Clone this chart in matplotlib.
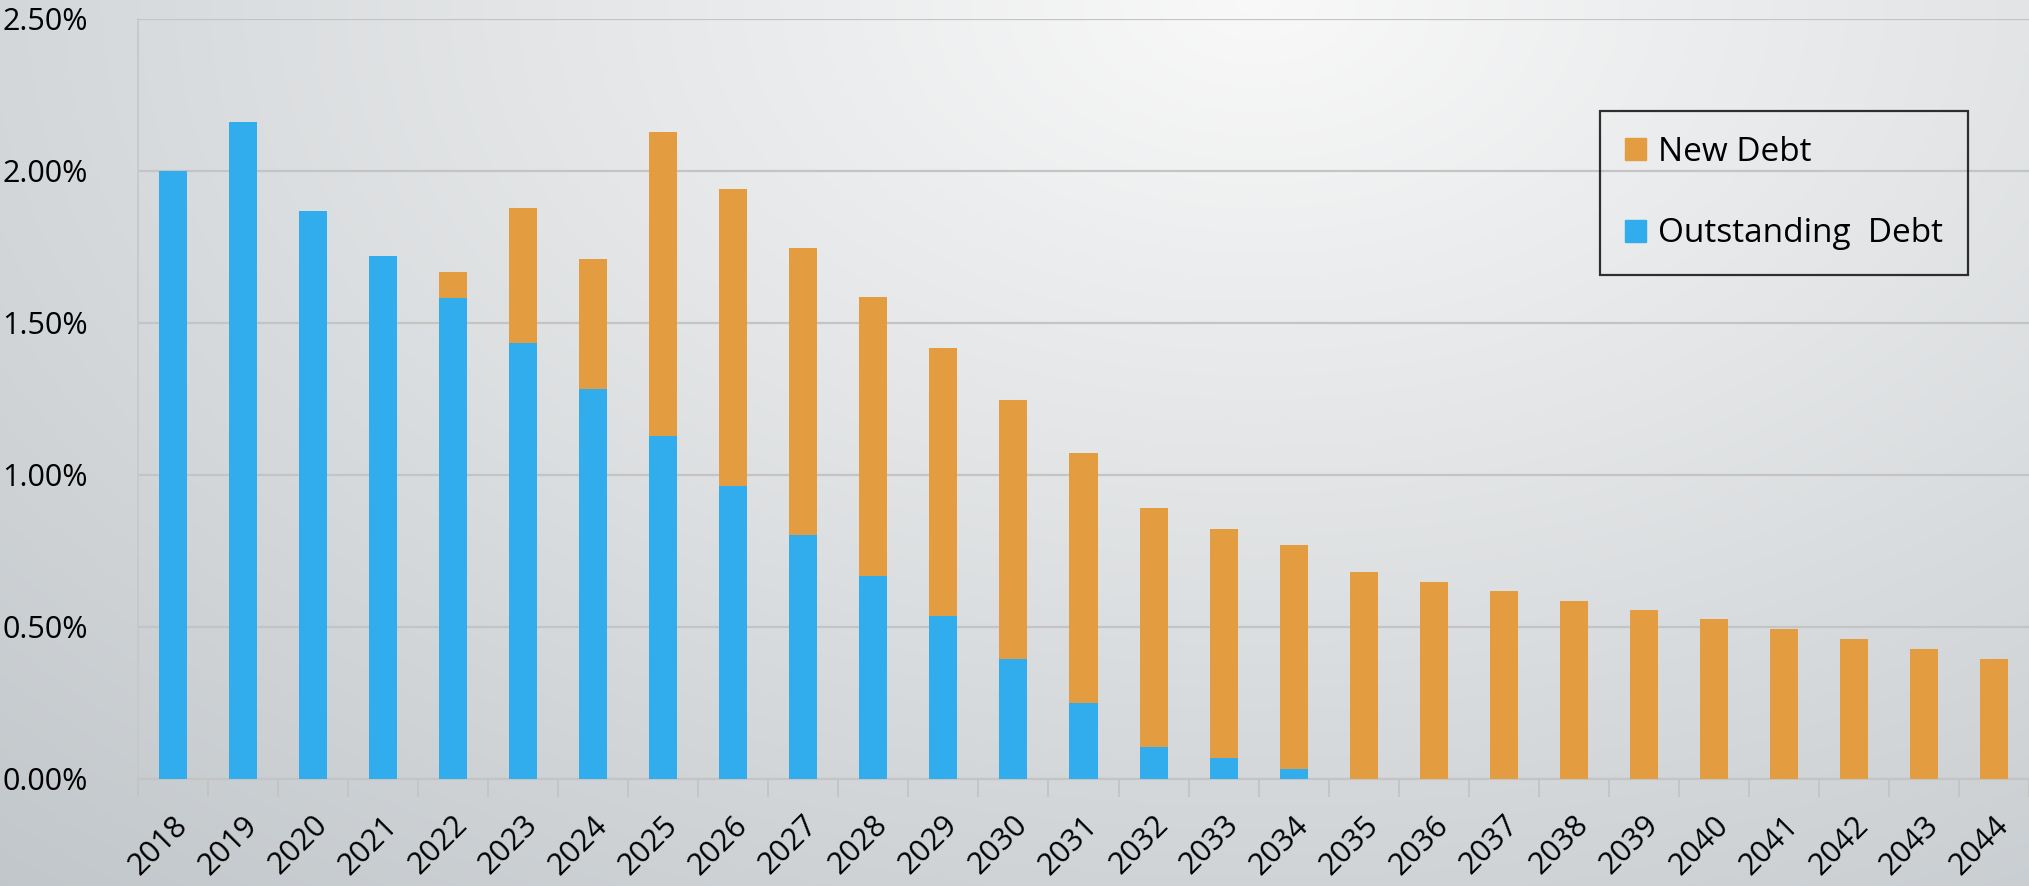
import numpy as np
import matplotlib
matplotlib.use("Agg")
import matplotlib.pyplot as plt
from matplotlib.patches import Patch
from matplotlib.ticker import FuncFormatter, FixedLocator
from matplotlib.transforms import ScaledTranslation

years = [str(y) for y in range(2018, 2045)]
total = [2.00, 2.16, 1.867, 1.722, 1.667, 1.877, 1.709, 2.128, 1.940, 1.748,
         1.584, 1.417, 1.247, 1.071, 0.890, 0.823, 0.771, 0.681, 0.647, 0.617,
         0.587, 0.557, 0.525, 0.493, 0.462, 0.428, 0.395]
outstanding = [2.00, 2.16, 1.867, 1.722, 1.581, 1.434, 1.284, 1.129, 0.965, 0.804,
               0.668, 0.537, 0.396, 0.251, 0.105, 0.070, 0.034, 0, 0, 0,
               0, 0, 0, 0, 0, 0, 0]
new_debt = [t - o for t, o in zip(total, outstanding)]

plt.rcParams['font.family'] = ['Open Sans', 'DejaVu Sans']

W, H = 2029, 886
fig = plt.figure(figsize=(W / 100, H / 100), dpi=100)

# background gradient
bg = fig.add_axes([0, 0, 1, 1], zorder=0)
yy, xx = np.mgrid[0:1:300j, 0:1:600j]
d = np.sqrt(((xx - 0.62) * 1.6) ** 2 + ((yy - 0.0) * 1.1) ** 2)
d = np.clip(d / d.max(), 0, 1)
light = np.array([0.975, 0.975, 0.975])
dark = np.array([0.76, 0.78, 0.795])
img = light[None, None, :] * (1 - d[..., None]) + dark[None, None, :] * d[..., None]
bg.imshow(img, aspect='auto', extent=[0, 1, 1, 0])
bg.axis('off')

ax = fig.add_axes([138 / W, 1 - 779 / H, 1 - 138 / W, (779 - 19) / H], zorder=1)
ax.patch.set_alpha(0)

x = np.arange(len(years))
blue = '#31ACEC'
orange = '#E39D40'
ax.bar(x, outstanding, width=0.4, color=blue, linewidth=0, zorder=3)
nd = ax.bar(x, new_debt, width=0.4, bottom=outstanding, color=orange, linewidth=0, zorder=3)
for rect, v in zip(nd, new_debt):
    if v <= 0:
        rect.set_visible(False)

ax.set_xlim(-0.5, len(years) - 0.5)
ax.set_ylim(0, 2.5)
ax.set_yticks([0, 0.5, 1.0, 1.5, 2.0, 2.5])
ax.yaxis.set_major_formatter(FuncFormatter(lambda v, p: '%.2f%%' % v))
ax.grid(axis='y', color='#c4c4c4', linewidth=1.6, zorder=0)
ax.tick_params(axis='y', length=0, pad=36, labelsize=22)

ax.set_xticks(x)
ax.set_xticklabels(years)
ax.xaxis.set_minor_locator(FixedLocator(np.arange(-0.5, len(years), 1.0)))
ax.tick_params(axis='x', which='major', length=0, pad=30, labelsize=22)
ax.tick_params(axis='x', which='minor', length=13, width=1.3, color='#c4c4c4')
offset = ScaledTranslation(10 / 100, 0, fig.dpi_scale_trans)
for lab in ax.get_xticklabels():
    lab.set_rotation(45)
    lab.set_ha('right')
    lab.set_va('center')
    lab.set_rotation_mode('anchor')
    lab.set_transform(lab.get_transform() + offset)

for s in ['top', 'right']:
    ax.spines[s].set_visible(False)
ax.spines['left'].set_color('#c8c8c8')
ax.spines['left'].set_linewidth(1.3)
ax.spines['bottom'].set_color('#c4c4c4')
ax.spines['bottom'].set_linewidth(1.6)

handles = [Patch(color=orange, label='New Debt'),
           Patch(color=blue, label='Outstanding  Debt')]
leg = ax.legend(handles=handles, loc='upper left',
                bbox_to_anchor=(1600 / W, 1 - 111 / H), bbox_transform=fig.transFigure,
                fontsize=24, frameon=True, fancybox=False, borderpad=0.75,
                labelspacing=1.45, handlelength=0.64, handleheight=0.64,
                handletextpad=0.35, borderaxespad=0)
leg.get_frame().set_edgecolor('black')
leg.get_frame().set_linewidth(1.6)
leg.get_frame().set_facecolor('none')

fig.savefig('out.png', dpi=100)
